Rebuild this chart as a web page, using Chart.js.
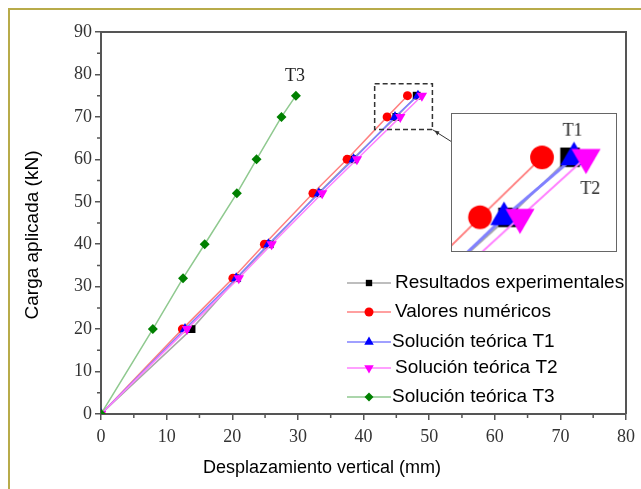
<!DOCTYPE html>
<html>
<head>
<meta charset="utf-8">
<script src="https://cdn.jsdelivr.net/npm/chart.js@4.4.1/dist/chart.umd.min.js"></script>
<style>
body { margin: 0; background: #fff; }
#wrap { position: relative; width: 641px; height: 489px; }
#insetChart { position: absolute; left: 451px; top: 113px; border: 1.5px solid #666; background: #fff; }
</style>
</head>
<body>
<div id="wrap">
<canvas id="resultsChart" width="641" height="489"></canvas>
<canvas id="insetChart" width="166" height="139"></canvas>
</div>
<script>
// load steps (kN) and vertical displacement (mm) for each series
const loads = [0, 20, 32, 40, 52, 60, 70, 75];
const experimental = [0, 13.8, 20.7, 25.7, 33.1, 38.3, 45.0, 48.1];
const numerical = [0, 12.4, 20.1, 24.9, 32.3, 37.5, 43.6, 46.7];
const theoryT1 = [0, 12.8, 20.6, 25.5, 33.2, 38.5, 44.8, 48.3];
const theoryT2 = [0, 13.1, 21.0, 26.0, 33.7, 39.0, 45.6, 48.9];
const theoryT3 = [0, 7.9, 12.5, 15.8, 20.7, 23.7, 27.5, 29.7];
const seriesNames = ["Resultados experimentales", "Valores numéricos", "Solución teórica T1",
    "Solución teórica T2", "Solución teórica T3"];
const xTicks = [0, 10, 20, 30, 40, 50, 60, 70, 80];
const yTicks = [0, 10, 20, 30, 40, 50, 60, 70, 80, 90];

const styles = [
    {line: '#a8a8a8', fill: '#000000', shape: 'rect', rot: 0, r: 5.5, big: 14, order: 4},
    {line: '#ff8080', fill: '#ff0000', shape: 'circle', rot: 0, r: 4.5, big: 12, order: 3},
    {line: '#8080ff', fill: '#0000ff', shape: 'triangle', rot: 0, r: 6, big: 16, order: 2},
    {line: '#ff80ff', fill: '#ff00ff', shape: 'triangle', rot: 180, r: 6, big: 17, order: 1},
    {line: '#8fc98f', fill: '#008000', shape: 'rectRot', rot: 0, r: 5, big: 12, order: 0}
];
const allSeries = [experimental, numerical, theoryT1, theoryT2, theoryT3];

function makeSets(inset) {
    return allSeries.map((xs, i) => {
        const s = styles[i];
        return {
            label: seriesNames[i],
            data: loads.map((y, j) => ({x: xs[j], y: y})),
            borderColor: s.line,
            borderWidth: inset ? (i == 2 ? 3 : 2) : 1.5,
            backgroundColor: s.fill,
            pointBackgroundColor: s.fill,
            pointBorderColor: s.fill,
            pointBorderWidth: 0,
            pointStyle: s.shape,
            pointRotation: s.rot,
            pointRadius: inset ? s.big : s.r,
            tension: 0,
            order: s.order
        };
    });
}

const serif = 'Liberation Serif, Times New Roman, serif';
const sans = 'Liberation Sans, Arial, sans-serif';

const frame = {
    id: 'frame',
    beforeDraw(chart) {
        const ctx = chart.ctx;
        ctx.save();
        ctx.strokeStyle = '#b8ab4a';
        ctx.lineWidth = 2;
        ctx.beginPath();
        ctx.moveTo(9, 489); ctx.lineTo(9, 9); ctx.lineTo(641, 9);
        ctx.stroke();
        ctx.restore();
    },
    afterDraw(chart) {
        const ctx = chart.ctx, a = chart.chartArea;
        const xs = chart.scales.x, ys = chart.scales.y;
        ctx.save();
        // top and right frame
        ctx.strokeStyle = '#555';
        ctx.lineWidth = 2;
        ctx.beginPath();
        ctx.moveTo(a.left, a.top); ctx.lineTo(a.right, a.top); ctx.lineTo(a.right, a.bottom);
        ctx.stroke();
        // minor ticks
        ctx.lineWidth = 1.5;
        ctx.beginPath();
        for (let v = 5; v < 80; v += 10) {
            const p = xs.getPixelForValue(v);
            ctx.moveTo(p, a.bottom); ctx.lineTo(p, a.bottom + 4);
        }
        for (let v = 5; v < 90; v += 10) {
            const p = ys.getPixelForValue(v);
            ctx.moveTo(a.left, p); ctx.lineTo(a.left - 4, p);
        }
        ctx.stroke();

        // axis titles
        ctx.fillStyle = '#000';
        ctx.textAlign = 'center';
        ctx.textBaseline = 'middle';
        ctx.font = '18px ' + sans;
        ctx.fillText('Desplazamiento vertical (mm)', 322, 468);
        ctx.save();
        ctx.translate(33, 235);
        ctx.rotate(-Math.PI / 2);
        ctx.font = '19px ' + sans;
        ctx.fillText('Carga aplicada (kN)', 0, 0);
        ctx.restore();

        // T3 label
        ctx.font = '18px ' + serif;
        ctx.fillStyle = '#222';
        ctx.fillText('T3', 295, 76);

        // dashed zoom box and connector
        const bx1 = xs.getPixelForValue(41.7), bx2 = xs.getPixelForValue(50.5);
        const by1 = ys.getPixelForValue(77.8), by2 = ys.getPixelForValue(67);
        ctx.strokeStyle = '#333';
        ctx.lineWidth = 1.5;
        ctx.setLineDash([5, 3]);
        ctx.strokeRect(bx1, by1, bx2 - bx1, by2 - by1);
        ctx.setLineDash([]);
        ctx.lineWidth = 1;
        ctx.beginPath();
        ctx.moveTo(bx2, by2); ctx.lineTo(452, 142);
        ctx.stroke();
        ctx.beginPath();
        ctx.moveTo(bx2 + 2, by2 + 1); ctx.lineTo(bx2 + 7, by2 + 2); ctx.lineTo(bx2 + 5, by2 + 6);
        ctx.closePath();
        ctx.fillStyle = '#333';
        ctx.fill();

        // legend
        const rows = [283, 312, 342, 368, 397];
        const textX = [395, 395, 392, 395, 392];
        ctx.textAlign = 'left';
        ctx.font = '19px ' + sans;
        rows.forEach((y, i) => {
            const s = styles[i];
            ctx.strokeStyle = s.line;
            ctx.lineWidth = 1.5;
            ctx.beginPath();
            ctx.moveTo(347, y); ctx.lineTo(391, y);
            ctx.stroke();
            ctx.fillStyle = s.fill;
            ctx.strokeStyle = s.fill;
            Chart.helpers.drawPoint(ctx, {pointStyle: s.shape, radius: s.shape == 'triangle' ? 5.5 : 4.5,
                rotation: s.rot, borderWidth: 0}, 369, y);
            ctx.fillStyle = '#000';
            ctx.fillText(seriesNames[i], textX[i], y);
        });
        ctx.restore();
    }
};

const mainChart = new Chart(document.getElementById('resultsChart').getContext('2d'), {
    type: 'line',
    data: {datasets: makeSets(false)},
    options: {
        responsive: false,
        animation: false,
        layout: {padding: {top: 32, right: 14, left: 0, bottom: 0}},
        plugins: {legend: {display: false}, tooltip: {enabled: false}},
        scales: {
            x: {
                type: 'linear', min: 0, max: 80,
                afterBuildTicks: s => { s.ticks = xTicks.map(v => ({value: v})); },
                afterFit: s => { s.height = 75; },
                grid: {drawOnChartArea: false, drawTicks: true, tickLength: 6, color: '#555', lineWidth: 1.5},
                border: {color: '#555', width: 2},
                ticks: {color: '#333', padding: 6, font: {family: serif, size: 18}}
            },
            y: {
                type: 'linear', min: 0, max: 90,
                afterBuildTicks: s => { s.ticks = yTicks.map(v => ({value: v})); },
                afterFit: s => { s.width = 101; },
                grid: {drawOnChartArea: false, drawTicks: true, tickLength: 6, color: '#555', lineWidth: 1.5},
                border: {color: '#555', width: 2},
                ticks: {color: '#333', padding: 3, font: {family: serif, size: 18}}
            }
        }
    },
    plugins: [frame]
});

const insetLabels = {
    id: 'insetLabels',
    afterDraw(chart) {
        const ctx = chart.ctx;
        ctx.save();
        ctx.font = '18px ' + serif;
        ctx.fillStyle = '#222';
        ctx.textAlign = 'center';
        ctx.textBaseline = 'middle';
        ctx.fillText('T1', 122, 17);
        ctx.fillText('T2', 140, 76);
        ctx.restore();
    }
};

const insetChart = new Chart(document.getElementById('insetChart').getContext('2d'), {
    type: 'line',
    data: {datasets: makeSets(true)},
    options: {
        responsive: false,
        animation: false,
        layout: {padding: 0, autoPadding: false},
        plugins: {legend: {display: false}, tooltip: {enabled: false}},
        scales: {
            x: {type: 'linear', min: 42.2, max: 50.4, display: false},
            y: {type: 'linear', min: 67.2, max: 78.6, display: false}
        }
    },
    plugins: [insetLabels]
});
</script>
</body>
</html>
